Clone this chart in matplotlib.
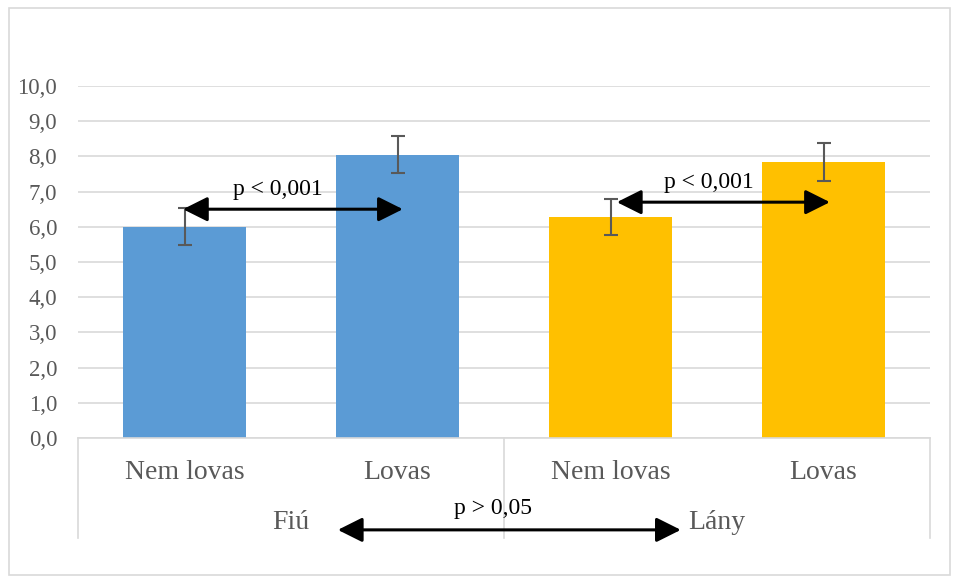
import matplotlib.pyplot as plt
from matplotlib.patches import Rectangle
from matplotlib.ticker import FuncFormatter

plt.rcParams['font.family'] = ['Liberation Serif', 'DejaVu Serif']

# data
categories = ["Nem lovas", "Lovas", "Nem lovas", "Lovas"]
groups = ["Fiú", "Lány"]
means = [6.0, 8.05, 6.28, 7.84]
errors = [0.52, 0.53, 0.52, 0.54]
colors = ["#5B9BD5", "#5B9BD5", "#FFC000", "#FFC000"]
p_within = ["p < 0,001", "p < 0,001"]
p_between = "p > 0,05"

GRAY = "#595959"
LIGHT = "#d9d9d9"

fig = plt.figure(figsize=(9.59, 5.83), dpi=100)
ax = fig.add_axes([78 / 959, 1 - 438 / 583, 852 / 959, 352 / 583])

x = list(range(len(categories)))
ax.bar(x, means, width=0.573, color=colors, zorder=2)
ax.errorbar(x, means, yerr=errors, fmt="none", ecolor=GRAY, elinewidth=1.5,
            capsize=5, capthick=1.5, zorder=3)

ax.set_xlim(-0.5, 3.5)
ax.set_ylim(0, 10)
ax.set_yticks([i for i in range(11)])
ax.yaxis.set_major_formatter(FuncFormatter(lambda v, p: f"{v:.1f}".replace(".", ",")))
ax.tick_params(axis="y", length=0, pad=15, labelsize=16.5, labelcolor=GRAY)
ax.set_xticks([])
ax.grid(axis="y", color=LIGHT, lw=1.2, zorder=0)
for s in ax.spines.values():
    s.set_visible(False)

# category axis below the plot
trans = ax.get_xaxis_transform()
ax.plot([-0.5, 3.5], [0, 0], color=LIGHT, lw=1.2, transform=trans, clip_on=False)
for xv in [-0.5, 1.5, 3.5]:
    ax.plot([xv, xv], [0, -0.284], color=LIGHT, lw=1.2, transform=trans, clip_on=False)
for xi, lab in zip(x, categories):
    ax.text(xi, -0.97, lab, ha="center", va="center", fontsize=20, color=GRAY, clip_on=False)
for gi, g in enumerate(groups):
    ax.text(0.5 + 2 * gi, -2.39, g, ha="center", va="center", fontsize=20, color=GRAY, clip_on=False)

# significance arrows
arrow = dict(arrowstyle="<|-|>,head_length=0.5,head_width=0.25", color="black", lw=2.2,
             mutation_scale=30, shrinkA=0, shrinkB=0)
ax.annotate("", xy=(1.025, 6.5), xytext=(-0.007, 6.5), arrowprops=arrow, zorder=4)
ax.text(0.44, 7.05, p_within[0], ha="center", va="center", fontsize=17, zorder=4)
ax.annotate("", xy=(3.03, 6.7), xytext=(2.03, 6.7), arrowprops=arrow, zorder=4)
ax.text(2.46, 7.25, p_within[1], ha="center", va="center", fontsize=17, zorder=4)
ax.annotate("", xy=(2.33, -2.61), xytext=(0.72, -2.61), arrowprops=arrow,
            annotation_clip=False)
ax.text(1.45, -1.99, p_between, ha="center", va="center", fontsize=17, clip_on=False)

# outer chart border
fig.patches.append(Rectangle((9 / 959, 8 / 583), 941 / 959, 567 / 583, transform=fig.transFigure,
                             fill=False, edgecolor=LIGHT, lw=1.2))

fig.savefig("out.png", dpi=100)
